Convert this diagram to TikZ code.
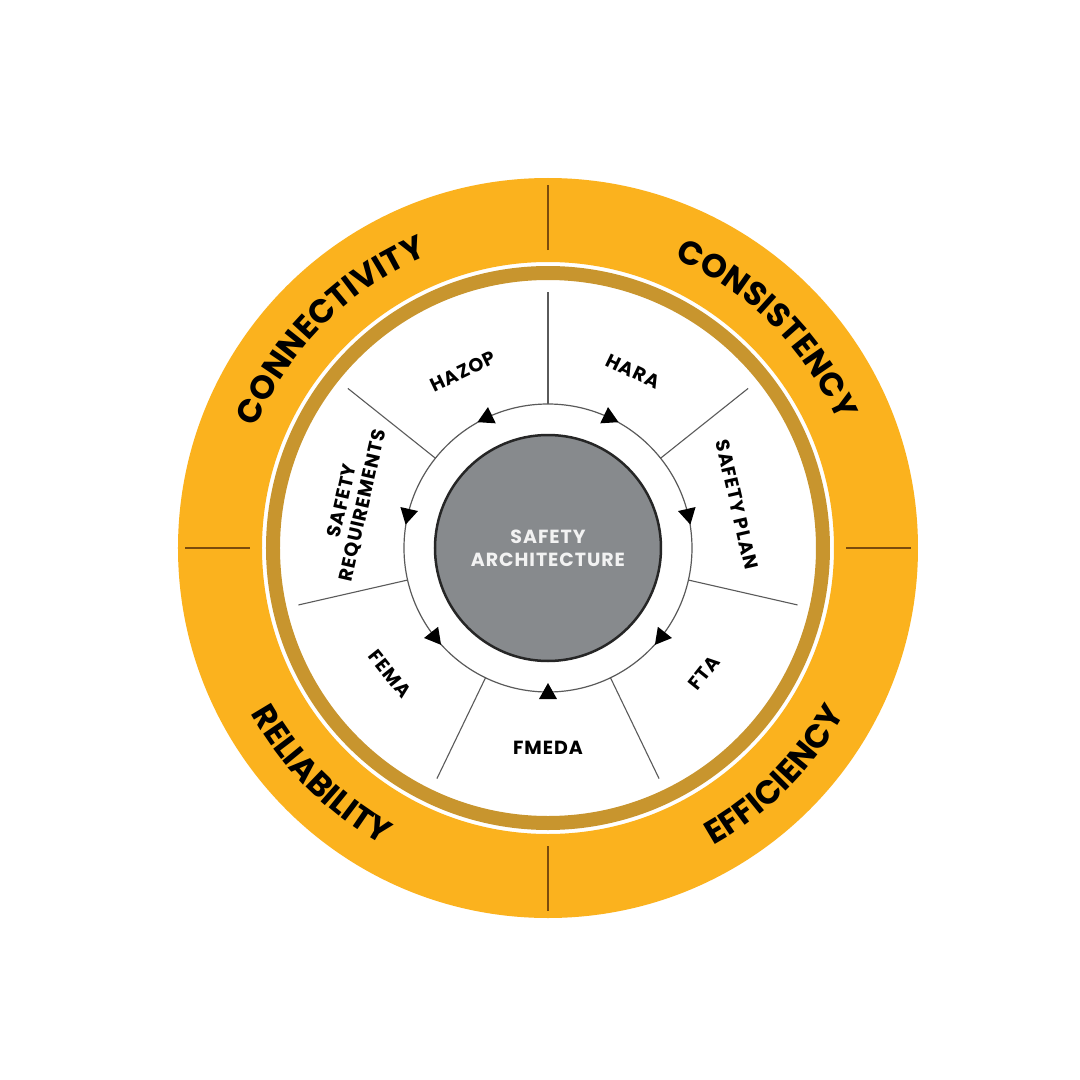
\documentclass[tikz,border=0pt]{standalone}
\usepackage{fontspec}
\setmainfont{Poppins}
\usetikzlibrary{decorations.text}
\definecolor{ringyellow}{HTML}{FBB21E}
\definecolor{ringbrown}{HTML}{C8952E}
\definecolor{divbrown}{HTML}{7A4B0C}
\definecolor{hubgray}{HTML}{878A8D}
\definecolor{linegray}{HTML}{5A5A5A}
\newcommand\outerfont{\fontsize{33}{33}\selectfont\bfseries}
\begin{document}
\begin{tikzpicture}[x=1pt,y=1pt,
  sectorline/.style={draw=linegray, line width=1.1},
  ringline/.style={draw=linegray, line width=1.2},
  divider/.style={draw=divbrown, line width=2.5},
  lbl/.style={font=\fontsize{19}{21}\selectfont\bfseries\addfontfeature{LetterSpace=5}, text=black, align=center, inner sep=0},
  hub/.style={circle, fill=hubgray, draw=black!85, line width=2.5, minimum size=226, inner sep=0,
    text=white!95!black, align=center, font=\fontsize{19}{23}\selectfont\bfseries\addfontfeature{LetterSpace=5}},
  tri/.style={fill=black},
  outertext/.style={decorate, decoration={text along path, text align=center, text={|\outerfont|#1}}}
]
\useasboundingbox (-548,-532) rectangle (532,548);
\fill[white] (-548,-532) rectangle (532,548);
% outer rings
\fill[ringyellow,even odd rule] (0,0) circle[radius=370] (0,0) circle[radius=286];
\fill[ringbrown,even odd rule] (0,0) circle[radius=282] (0,0) circle[radius=268];
\foreach \a in {0,90,180,270} \draw[divider] (\a:298) -- (\a:363);
% sector lines
\foreach \k in {0,...,6} \draw[sectorline] ({90-\k*360/7}:144) -- ({90-\k*360/7}:256);
% arrow ring
\draw[ringline] (0,0) circle[radius=144];
% arrowheads
\foreach \a/\d in {115.7/205.7, 167.1/257.1, -141.4/-51.4, 64.3/-25.7, 12.9/-77.1, -38.6/-128.6, -90/90}
  \fill[tri, shift={(\a:144)}, rotate=\d] (9,0) -- (-7,9) -- (-7,-9) -- cycle;
% hub
\node[hub] (hub) at (0,0) {SAFETY\\ARCHITECTURE};
% inner labels
\node[lbl, rotate=25.7] (hazop) at (115.7:196) {HAZOP};
\node[lbl, rotate=-25.7] (hara) at (64.3:196) {HARA};
\node[lbl, rotate=-77.1] (splan) at (12.9:194) {SAFETY PLAN};
\node[lbl, rotate=51.4] (fta) at (-38.6:200) {FTA};
\node[lbl] (fmeda) at (-90:200) {FMEDA};
\node[lbl, rotate=-51.4] (fema) at (-141.4:202) {FEMA};
\node[lbl, rotate=77.1] (sreq) at (167.1:200) {SAFETY\\REQUIREMENTS};
% outer labels
\path[outertext=CONNECTIVITY] (180:316) arc[start angle=180, end angle=90, radius=316];
\path[outertext=CONSISTENCY] (90:316) arc[start angle=90, end angle=0, radius=316];
\path[outertext=RELIABILITY] (180:340) arc[start angle=180, end angle=270, radius=340];
\path[outertext=EFFICIENCY] (270:340) arc[start angle=270, end angle=360, radius=340];
\end{tikzpicture}
\end{document}
